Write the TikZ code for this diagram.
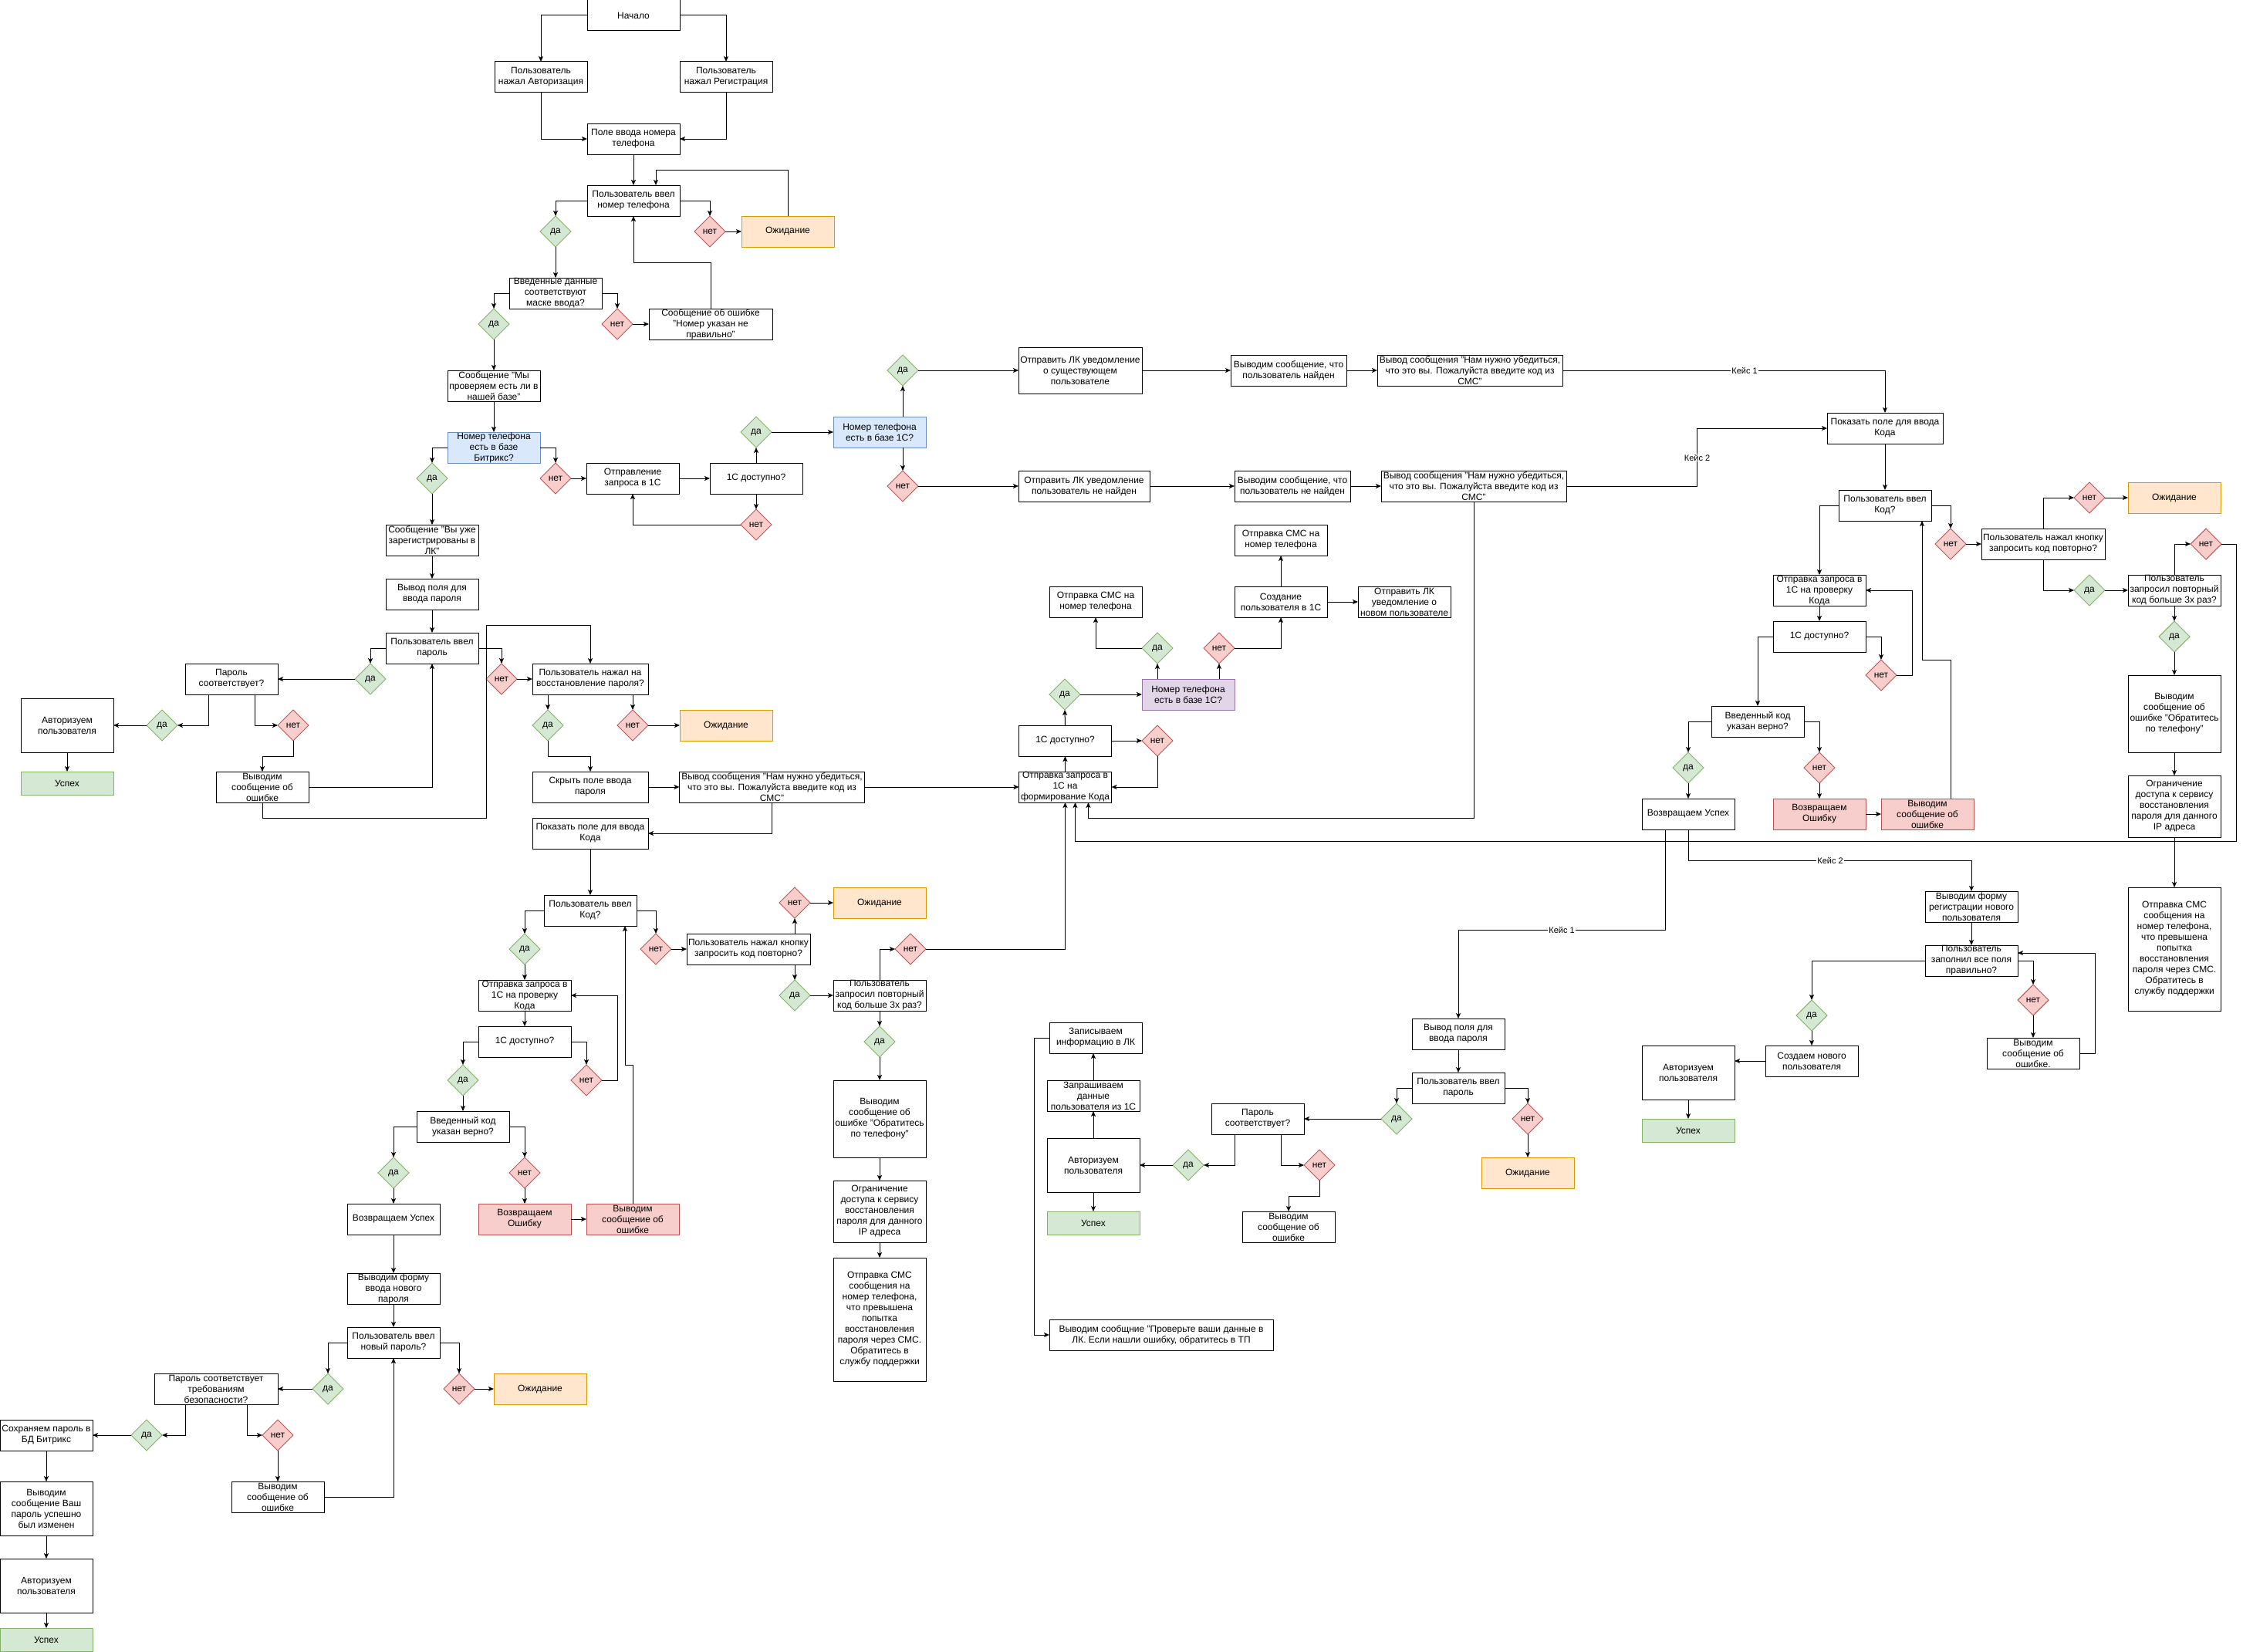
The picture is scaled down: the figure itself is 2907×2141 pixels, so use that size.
\documentclass[tikz,border=0pt]{standalone}
\usepackage{fontspec}
\setmainfont{Liberation Sans}
\usetikzlibrary{shapes.geometric,arrows.meta,calc}
\definecolor{gfill}{HTML}{D5E8D4}\definecolor{gstroke}{HTML}{82B366}
\definecolor{rfill}{HTML}{F8CECC}\definecolor{rstroke}{HTML}{B85450}
\definecolor{ofill}{HTML}{FFE6CC}\definecolor{ostroke}{HTML}{D79B00}
\definecolor{bfill}{HTML}{DAE8FC}\definecolor{bstroke}{HTML}{6C8EBF}
\definecolor{pfill}{HTML}{E1D5E7}\definecolor{pstroke}{HTML}{9673A6}
\newcommand{\fbx}[7]{%
  \node[#1, minimum width=#5*0.5pt, minimum height=#6*0.5pt] (#2) at (#3,#4) {};
  \node[txt] (#2-t) at (#2.center) {#7};}
\newcommand{\dyes}[3]{\node[gd] (#1) at (#2,#3) {да};}
\newcommand{\dno}[3]{\node[rd] (#1) at (#2,#3) {нет};}
\newcommand{\smstext}{Вывод сообщения "Нам нужно убедиться,\\что это вы. Пожалуйста введите код из\\СМС"}
\begin{document}
\begin{tikzpicture}[x=0.5pt,y=-0.5pt,
  base/.style={draw=black, line width=0.5pt, inner sep=0pt, outer sep=0pt},
  bx/.style={base, rectangle, fill=white},
  okb/.style={bx, fill=gfill, draw=gstroke},
  waitb/.style={bx, fill=ofill, draw=ostroke},
  blueb/.style={bx, fill=bfill, draw=bstroke},
  purpb/.style={bx, fill=pfill, draw=pstroke},
  redb/.style={bx, fill=rfill, draw=rstroke},
  txt/.style={align=center, inner sep=0pt, text=black, font=\fontsize{6pt}{7pt}\selectfont},
  gd/.style={base, diamond, aspect=1, minimum width=20pt, minimum height=20pt, fill=gfill, draw=gstroke, font=\fontsize{6pt}{7pt}\selectfont},
  rd/.style={base, diamond, aspect=1, minimum width=20pt, minimum height=20pt, fill=rfill, draw=rstroke, font=\fontsize{6pt}{7pt}\selectfont},
  ar/.style={draw=black, line width=0.5pt, -{Stealth[length=3.5pt,width=3pt,inset=0.8pt]}},
  lbl/.style={fill=white, inner sep=0.5pt, text=black, font=\fontsize{5.5pt}{6pt}\selectfont}]
\fill[white] (0,0) rectangle (2907,2141);
\useasboundingbox (0,0) rectangle (2907,2141);

% ---------- top / left column ----------
\fbx{bx}{start}{821}{20}{120}{40}{Начало}
\fbx{bx}{auth}{701}{100}{120}{40}{Пользователь\\нажал Авторизация}
\fbx{bx}{reg}{941}{100}{120}{40}{Пользователь\\нажал Регистрация}
\fbx{bx}{phf}{821}{180}{120}{40}{Поле ввода номера\\телефона}
\fbx{bx}{phin}{821}{260}{120}{40}{Пользователь ввел\\номер телефона}
\dyes{d1y}{720}{300}\dno{d1n}{920}{300}
\fbx{waitb}{wait1}{1021}{300}{120}{40}{Ожидание}
\fbx{bx}{mask}{720}{380}{120}{40}{Введенные данные\\соответствуют\\маске ввода?}
\dyes{d2y}{640}{420}\dno{d2n}{800}{420}
\fbx{bx}{errph}{921}{420}{160}{40}{Сообщение об ошибке\\"Номер указан не\\правильно"}
\fbx{bx}{msgchk}{640}{500}{120}{40}{Сообщение "Мы\\проверяем есть ли в\\нашей базе"}
\fbx{blueb}{bitrix}{640}{580}{120}{40}{Номер телефона\\есть в базе\\Битрикс?}
\dyes{d3y}{560}{620}\dno{d3n}{720}{620}
\fbx{bx}{already}{560}{700}{120}{40}{Сообщение "Вы уже\\зарегистрированы в\\ЛК"}
\fbx{bx}{pwf}{560}{770}{120}{40}{Вывод поля для\\ввода пароля}
\fbx{bx}{pwin}{560}{840}{120}{40}{Пользователь ввел\\пароль}
\dyes{d4y}{480}{880}\dno{d4n}{650}{880}
\fbx{bx}{pwok}{300}{880}{120}{40}{Пароль\\соответствует?}
\dyes{d5y}{210}{940}\dno{d5n}{380}{940}
\fbx{bx}{authL}{87}{940}{120}{70}{Авторизуем\\пользователя}
\fbx{okb}{okL}{87}{1015}{120}{30}{Успех}
\fbx{bx}{errpw}{340}{1020}{120}{40}{Выводим\\сообщение об\\ошибке}
\fbx{bx}{recov}{765}{880}{150}{40}{Пользователь нажал на\\восстановление пароля?}
\dyes{d6y}{710}{940}\dno{d6n}{820}{940}
\fbx{waitb}{wait2}{941}{940}{120}{40}{Ожидание}
\fbx{bx}{hidepw}{765}{1020}{150}{40}{Скрыть поле ввода\\пароля}
\fbx{bx}{smsmsg1}{1000.5}{1020}{240}{40}{\smstext}
\fbx{bx}{req1c}{1380.5}{1020}{120}{40}{Отправка запроса в\\1С на\\формирование Кода}
\fbx{bx}{showcode1}{765}{1080}{150}{40}{Показать поле для ввода\\Кода}
\fbx{bx}{codein1}{765}{1180}{120}{40}{Пользователь ввел\\Код?}
\dyes{d7y}{680}{1230}\dno{d7n}{850}{1230}
\fbx{bx}{chk1}{680}{1290}{120}{40}{Отправка запроса в\\1С на проверку\\Кода}
\fbx{bx}{av1}{680}{1350}{120}{40}{1С доступно?}
\dyes{d8y}{600}{1400}\dno{d8n}{760}{1400}
\fbx{bx}{codeok1}{600}{1460}{120}{40}{Введенный код\\указан верно?}
\dyes{d9y}{510}{1520}\dno{d9n}{680}{1520}
\fbx{bx}{succ1}{510}{1580}{120}{40}{Возвращаем Успех}
\fbx{redb}{fail1}{680}{1580}{120}{40}{Возвращаем\\Ошибку}
\fbx{redb}{errc1}{820}{1580}{120}{40}{Выводим\\сообщение об\\ошибке}
\fbx{bx}{newpwf}{510}{1670}{120}{40}{Выводим форму\\ввода нового\\пароля}
\fbx{bx}{newpwin}{510}{1740}{120}{40}{Пользователь ввел\\новый пароль?}
\dyes{d10y}{425}{1800}\dno{d10n}{595}{1800}
\fbx{bx}{secure}{280}{1800}{160}{40}{Пароль соответствует\\требованиям\\безопасности?}
\fbx{waitb}{wait3}{700}{1800}{120}{40}{Ожидание}
\dyes{d11y}{190}{1860}\dno{d11n}{360}{1860}
\fbx{bx}{save}{60}{1860}{120}{40}{Сохраняем пароль в\\БД Битрикс}
\fbx{bx}{chmsg}{60}{1955}{120}{70}{Выводим\\сообщение Ваш\\пароль успешно\\был изменен}
\fbx{bx}{auth2}{60}{2055}{120}{70}{Авторизуем\\пользователя}
\fbx{okb}{ok2}{60}{2125}{120}{30}{Успех}
\fbx{bx}{errsec}{360}{1940}{120}{40}{Выводим\\сообщение об\\ошибке}
\fbx{bx}{resend1}{970}{1230}{160}{40}{Пользователь нажал кнопку\\запросить код повторно?}
\dno{d12n}{1030}{1170}\dyes{d12y}{1030}{1290}
\fbx{waitb}{wait4}{1140}{1170}{120}{40}{Ожидание}
\fbx{bx}{more3}{1140}{1290}{120}{40}{Пользователь\\запросил повторный\\код больше 3х раз?}
\dno{d13n}{1180}{1230}\dyes{d13y}{1140}{1350}
\fbx{bx}{errtel1}{1140}{1450}{120}{100}{Выводим\\сообщение об\\ошибке "Обратитесь\\по телефону"}
\fbx{bx}{limit1}{1140}{1570}{120}{80}{Ограничение\\доступа к сервису\\восстановления\\пароля для данного\\IP адреса}
\fbx{bx}{smslim1}{1140}{1710}{120}{160}{Отправка СМС\\сообщения на\\номер телефона,\\что превышена\\попытка\\восстановления\\пароля через СМС.\\Обратитесь в\\службу поддержки}

% ---------- middle row ----------
\fbx{bx}{send1c}{820}{620}{120}{40}{Отправление\\запроса в 1С}
\fbx{bx}{av0}{980}{620}{120}{40}{1С доступно?}
\dyes{d14y}{980}{560}\dno{d14n}{980}{680}
\fbx{blueb}{in1c}{1140}{560}{120}{40}{Номер телефона\\есть в базе 1С?}
\dyes{d15y}{1170}{480}\dno{d15n}{1170}{630}
\fbx{bx}{lkexist}{1400}{480}{160}{60}{Отправить ЛК уведомление\\о существующем\\пользователе}
\fbx{bx}{lknot}{1405}{630}{170}{40}{Отправить ЛК уведомление\\пользователь не найден}
\fbx{bx}{found}{1670}{480}{150}{40}{Выводим сообщение, что\\пользователь найден}
\fbx{bx}{smsmsg2}{1905}{480}{240}{40}{\smstext}
\fbx{bx}{notfound}{1675}{630}{150}{40}{Выводим сообщение, что\\пользователь не найден}
\fbx{bx}{smsmsg3}{1910}{630}{240}{40}{\smstext}

% ---------- right column ----------
\fbx{bx}{showcode2}{2443}{555}{150}{40}{Показать поле для ввода\\Кода}
\fbx{bx}{codein2}{2443}{655}{120}{40}{Пользователь ввел\\Код?}
\dno{d16n}{2528}{705}
\fbx{bx}{resend2}{2648}{705}{160}{40}{Пользователь нажал кнопку\\запросить код повторно?}
\dno{d17n}{2708}{645}
\fbx{waitb}{wait5}{2818}{645}{120}{40}{Ожидание}
\dyes{d17y}{2708}{765}
\fbx{bx}{more3b}{2818}{765}{120}{40}{Пользователь\\запросил повторный\\код больше 3х раз?}
\dno{d18n}{2859}{705}
\dyes{d18y}{2818}{825}
\fbx{bx}{errtel2}{2818}{925}{120}{100}{Выводим\\сообщение об\\ошибке "Обратитесь\\по телефону"}
\fbx{bx}{limit2}{2818}{1045}{120}{80}{Ограничение\\доступа к сервису\\восстановления\\пароля для данного\\IP адреса}
\fbx{bx}{smslim2}{2818}{1230}{120}{160}{Отправка СМС\\сообщения на\\номер телефона,\\что превышена\\попытка\\восстановления\\пароля через СМС.\\Обратитесь в\\службу поддержки}
\fbx{bx}{chk2}{2358}{765}{120}{40}{Отправка запроса в\\1С на проверку\\Кода}
\fbx{bx}{av2}{2358}{825}{120}{40}{1С доступно?}
\dno{d19n}{2438}{875}
\fbx{bx}{codeok2}{2278}{935}{120}{40}{Введенный код\\указан верно?}
\dyes{d20y}{2188}{995}\dno{d20n}{2358}{995}
\fbx{bx}{succ2}{2188}{1055}{120}{40}{Возвращаем Успех}
\fbx{redb}{fail2}{2358}{1055}{120}{40}{Возвращаем\\Ошибку}
\fbx{redb}{errc2}{2498}{1055}{120}{40}{Выводим\\сообщение об\\ошибке}

% ---------- centre ----------
\fbx{bx}{av1c}{1380.5}{960}{120}{40}{1С доступно?}
\dyes{d21y}{1380}{900}\dno{d21n}{1500}{960}
\fbx{purpb}{purple}{1540}{900}{120}{40}{Номер телефона\\есть в базе 1С?}
\dyes{d22y}{1500}{840}\dno{d22n}{1580}{840}
\fbx{bx}{smsL}{1420}{780}{120}{40}{Отправка СМС на\\номер телефона}
\fbx{bx}{create}{1660}{780}{120}{40}{Создание\\пользователя в 1С}
\fbx{bx}{lknew}{1820}{780}{120}{40}{Отправить ЛК\\уведомление о\\новом пользователе}
\fbx{bx}{smsR}{1660}{700}{120}{40}{Отправка СМС на\\номер телефона}
\fbx{bx}{pwf2}{1890}{1340}{120}{40}{Вывод поля для\\ввода пароля}
\fbx{bx}{pwin2}{1890}{1410}{120}{40}{Пользователь ввел\\пароль}
\dyes{d23y}{1810}{1450}\dno{d23n}{1980}{1450}
\fbx{waitb}{wait6}{1980}{1520}{120}{40}{Ожидание}
\fbx{bx}{pwok2}{1630}{1450}{120}{40}{Пароль\\соответствует?}
\dyes{d24y}{1540}{1510}\dno{d24n}{1710}{1510}
\fbx{bx}{auth3}{1417}{1510}{120}{70}{Авторизуем\\пользователя}
\fbx{okb}{ok3}{1417}{1585}{120}{30}{Успех}
\fbx{bx}{getdata}{1417}{1420}{120}{40}{Запрашиваем\\данные\\пользователя из 1С}
\fbx{bx}{save1}{1420}{1345}{120}{40}{Записываем\\информацию в ЛК}
\fbx{bx}{check}{1505}{1730}{290}{40}{Выводим сообщние "Проверьте ваши данные в\\ЛК. Если нашли ошибку, обратитесь в ТП}
\fbx{bx}{errpw2}{1670}{1590}{120}{40}{Выводим\\сообщение об\\ошибке}
\fbx{bx}{regform}{2555}{1175}{120}{40}{Выводим форму\\регистрации нового\\пользователя}
\fbx{bx}{filled}{2555}{1245}{120}{40}{Пользователь\\заполнил все поля\\правильно?}
\dyes{d25y}{2348}{1316}\dno{d25n}{2635}{1296}
\fbx{bx}{createnew}{2348}{1375}{120}{40}{Создаем нового\\пользователя}
\fbx{bx}{errf}{2635}{1365}{120}{40}{Выводим\\сообщение об\\ошибке.}
\fbx{bx}{auth4}{2188}{1390}{120}{70}{Авторизуем\\пользователя}
\fbx{okb}{ok4}{2188}{1465}{120}{30}{Успех}

% ---------- connectors: left part ----------
\draw[ar] (start.west) -| (auth.north);
\draw[ar] (start.east) -| (reg.north);
\draw[ar] (auth.south) |- (phf.west);
\draw[ar] (reg.south) |- (phf.east);
\draw[ar] (phf.south) -- (phin.north);
\draw[ar] (phin.west) -| (d1y.north);
\draw[ar] (phin.east) -| (d1n.north);
\draw[ar] (d1n.east) -- (wait1.west);
\draw[ar] (wait1.north) -- ++(0,-60) -| ($(phin.north)+(29,0)$);
\draw[ar] (d1y.south) -- (mask.north);
\draw[ar] (mask.west) -| (d2y.north);
\draw[ar] (mask.east) -| (d2n.north);
\draw[ar] (d2n.east) -- (errph.west);
\draw[ar] (errph.north) -- ++(0,-60) -| (phin.south);
\draw[ar] (d2y.south) -- (msgchk.north);
\draw[ar] (msgchk.south) -- (bitrix.north);
\draw[ar] (bitrix.west) -| (d3y.north);
\draw[ar] (bitrix.east) -| (d3n.north);
\draw[ar] (d3y.south) -- (already.north);
\draw[ar] (already.south) -- (pwf.north);
\draw[ar] (pwf.south) -- (pwin.north);
\draw[ar] (pwin.west) -| (d4y.north);
\draw[ar] (pwin.east) -| (d4n.north);
\draw[ar] (d4y.west) -- (pwok.east);
\draw[ar] ($(pwok.south)+(-30,0)$) |- (d5y.east);
\draw[ar] (d5y.west) -- (authL.east);
\draw[ar] (authL.south) -- (okL.north);
\draw[ar] ($(pwok.south)+(30,0)$) |- (d5n.west);
\draw[ar] (d5n.south) -- ++(0,20) -| (errpw.north);
\draw[ar] (errpw.east) -| (pwin.south);
\draw[ar] (errpw.south) |- (630,1060) -- (630,810) -| (recov.north);
\draw[ar] (d4n.east) -- (recov.west);
\draw[ar] (d6n.north |- recov.south) -- (d6n.north);
\draw[ar] (d6n.east) -- (wait2.west);
\draw[ar] (d6y.north |- recov.south) -- (d6y.north);
\draw[ar] (d6y.south) -- ++(0,20) -| (hidepw.north);
\draw[ar] (hidepw.east) -- (smsmsg1.west);
\draw[ar] (smsmsg1.east) -- (req1c.west);
\draw[ar] (smsmsg1.south) |- (showcode1.east);
\draw[ar] (showcode1.south) -- (codein1.north);
\draw[ar] (codein1.west) -| (d7y.north);
\draw[ar] (d7y.south) -- (chk1.north);
\draw[ar] (chk1.south) -- (av1.north);
\draw[ar] (av1.west) -| (d8y.north);
\draw[ar] (av1.east) -| (d8n.north);
\draw[ar] (d8n.east) -- ++(20,0) |- (chk1.east);
\draw[ar] (d8y.south) -- (codeok1.north);
\draw[ar] (codeok1.west) -| (d9y.north);
\draw[ar] (codeok1.east) -| (d9n.north);
\draw[ar] (d9y.south) -- (succ1.north);
\draw[ar] (d9n.south) -- (fail1.north);
\draw[ar] (fail1.east) -- (errc1.west);
\draw[ar] (errc1.north) -- ++(0,-180) -- ++(-10,0) -- ($(codein1.south)+(45,0)$);
\draw[ar] (succ1.south) -- (newpwf.north);
\draw[ar] (newpwf.south) -- (newpwin.north);
\draw[ar] (newpwin.west) -| (d10y.north);
\draw[ar] (newpwin.east) -| (d10n.north);
\draw[ar] (d10n.east) -- (wait3.west);
\draw[ar] (d10y.west) -- (secure.east);
\draw[ar] ($(secure.south)+(-40,0)$) |- (d11y.east);
\draw[ar] (d11y.west) -- (save.east);
\draw[ar] (save.south) -- (chmsg.north);
\draw[ar] (chmsg.south) -- (auth2.north);
\draw[ar] (auth2.south) -- (ok2.north);
\draw[ar] ($(secure.south)+(40,0)$) |- (d11n.west);
\draw[ar] (d11n.south) -- (errsec.north);
\draw[ar] (errsec.east) -| (newpwin.south);
\draw[ar] (codein1.east) -| (d7n.north);
\draw[ar] (d7n.east) -- (resend1.west);
\draw[ar] (d12n.south |- resend1.north) -- (d12n.south);
\draw[ar] (d12n.east) -- (wait4.west);
\draw[ar] (d12y.north |- resend1.south) -- (d12y.north);
\draw[ar] (d12y.east) -- (more3.west);
\draw[ar] (more3.north) |- (d13n.west);
\draw[ar] (d13n.east) -| (req1c.south);
\draw[ar] (more3.south) -- (d13y.north);
\draw[ar] (d13y.south) -- (errtel1.north);
\draw[ar] (errtel1.south) -- (limit1.north);
\draw[ar] (limit1.south) -- (smslim1.north);

% ---------- connectors: middle ----------
\draw[ar] (d3n.east) -- (send1c.west);
\draw[ar] (send1c.east) -- (av0.west);
\draw[ar] (av0.north) -- (d14y.south);
\draw[ar] (av0.south) -- (d14n.north);
\draw[ar] (d14n.west) -| (send1c.south);
\draw[ar] (d14y.east) -- (in1c.west);
\draw[ar] (d15y.south |- in1c.north) -- (d15y.south);
\draw[ar] (d15n.north |- in1c.south) -- (d15n.north);
\draw[ar] (d15y.east) -- (lkexist.west);
\draw[ar] (d15n.east) -- (lknot.west);
\draw[ar] (lkexist.east) -- (found.west);
\draw[ar] (found.east) -- (smsmsg2.west);
\draw[ar] (lknot.east) -- (notfound.west);
\draw[ar] (notfound.east) -- (smsmsg3.west);
\draw[ar] (smsmsg2.east) -| (showcode2.north);
\node[lbl] (k1a) at (2261,480) {Кейс 1};
\draw[ar] (smsmsg3.east) -- (2199.6,630) |- (showcode2.west);
\node[lbl] (k2a) at (2199.6,593) {Кейс 2};
\draw[ar] (smsmsg3.south) -- ++(0,410) -| ($(req1c.south)+(30,0)$);

% ---------- connectors: right ----------
\draw[ar] (showcode2.south) -- (codein2.north);
\draw[ar] (codein2.east) -| (d16n.north);
\draw[ar] (d16n.east) -- (resend2.west);
\draw[ar] (resend2.north) |- (d17n.west);
\draw[ar] (d17n.east) -- (wait5.west);
\draw[ar] (resend2.south) |- (d17y.west);
\draw[ar] (d17y.east) -- (more3b.west);
\draw[ar] (more3b.north) |- (d18n.west);
\draw[ar] (d18n.east) -- ++(19,0) -- (2898,1090) -| ($(req1c.south)+(13,0)$);
\draw[ar] (more3b.south) -- (d18y.north);
\draw[ar] (d18y.south) -- (errtel2.north);
\draw[ar] (errtel2.south) -- (limit2.north);
\draw[ar] (limit2.south) -- (smslim2.north);
\draw[ar] (codein2.west) -| (chk2.north);
\draw[ar] (chk2.south) -- (av2.north);
\draw[ar] (av2.east) -| (d19n.north);
\draw[ar] (d19n.east) -- ++(20,0) |- (chk2.east);
\draw[ar] (av2.west) -| (codeok2.north);
\draw[ar] (codeok2.west) -| (d20y.north);
\draw[ar] (codeok2.east) -| (d20n.north);
\draw[ar] (d20y.south) -- (succ2.north);
\draw[ar] (d20n.south) -- (fail2.north);
\draw[ar] (fail2.east) -- (errc2.west);
\draw[ar] ($(errc2.north)+(30,0)$) -- ++(0,-180) -| ($(codein2.south)+(48,0)$);
\draw[ar] ($(succ2.south)+(-30,0)$) -- ++(0,130) -| (pwf2.north);
\node[lbl] (k1b) at (2024,1205) {Кейс 1};
\draw[ar] (succ2.south) -- ++(0,40) -| (regform.north);
\node[lbl] (k2b) at (2372,1115) {Кейс 2};
\draw[ar] (regform.south) -- (filled.north);
\draw[ar] (filled.west) -| (d25y.north);
\draw[ar] (d25y.south) -- (createnew.north);
\draw[ar] (createnew.west) -- (createnew.west -| auth4.east);
\draw[ar] (auth4.south) -- (ok4.north);
\draw[ar] (filled.east) -| (d25n.north);
\draw[ar] (d25n.south) -- (errf.north);
\draw[ar] (errf.east) -- ++(20,0) |- ($(filled.east)+(0,-10)$);

% ---------- connectors: centre ----------
\draw[ar] (req1c.north) -- (av1c.south);
\draw[ar] (av1c.north) -- (d21y.south);
\draw[ar] (d21y.east) -- (purple.west);
\draw[ar] (d22y.south |- purple.north) -- (d22y.south);
\draw[ar] (d22n.south |- purple.north) -- (d22n.south);
\draw[ar] (d22y.west) -| (smsL.south);
\draw[ar] (d22n.east) -| (create.south);
\draw[ar] (create.north) -- (smsR.south);
\draw[ar] (create.east) -- (lknew.west);
\draw[ar] (av1c.east) -- (d21n.west);
\draw[ar] (d21n.south) |- (req1c.east);
\draw[ar] (pwf2.south) -- (pwin2.north);
\draw[ar] (pwin2.west) -| (d23y.north);
\draw[ar] (pwin2.east) -| (d23n.north);
\draw[ar] (d23y.west) -- (pwok2.east);
\draw[ar] (d23n.south) -- (wait6.north);
\draw[ar] ($(pwok2.south)+(-30,0)$) |- (d24y.east);
\draw[ar] (d24y.west) -- (auth3.east);
\draw[ar] (auth3.south) -- (ok3.north);
\draw[ar] (auth3.north) -- (getdata.south);
\draw[ar] (getdata.north) -- (getdata.north |- save1.south);
\draw[ar] ($(pwok2.south)+(30,0)$) |- (d24n.west);
\draw[ar] (d24n.south) -- ++(0,20) -| (errpw2.north);
\draw[ar] (save1.west) -- ++(-20,0) |- (check.west);
\end{tikzpicture}
\end{document}
